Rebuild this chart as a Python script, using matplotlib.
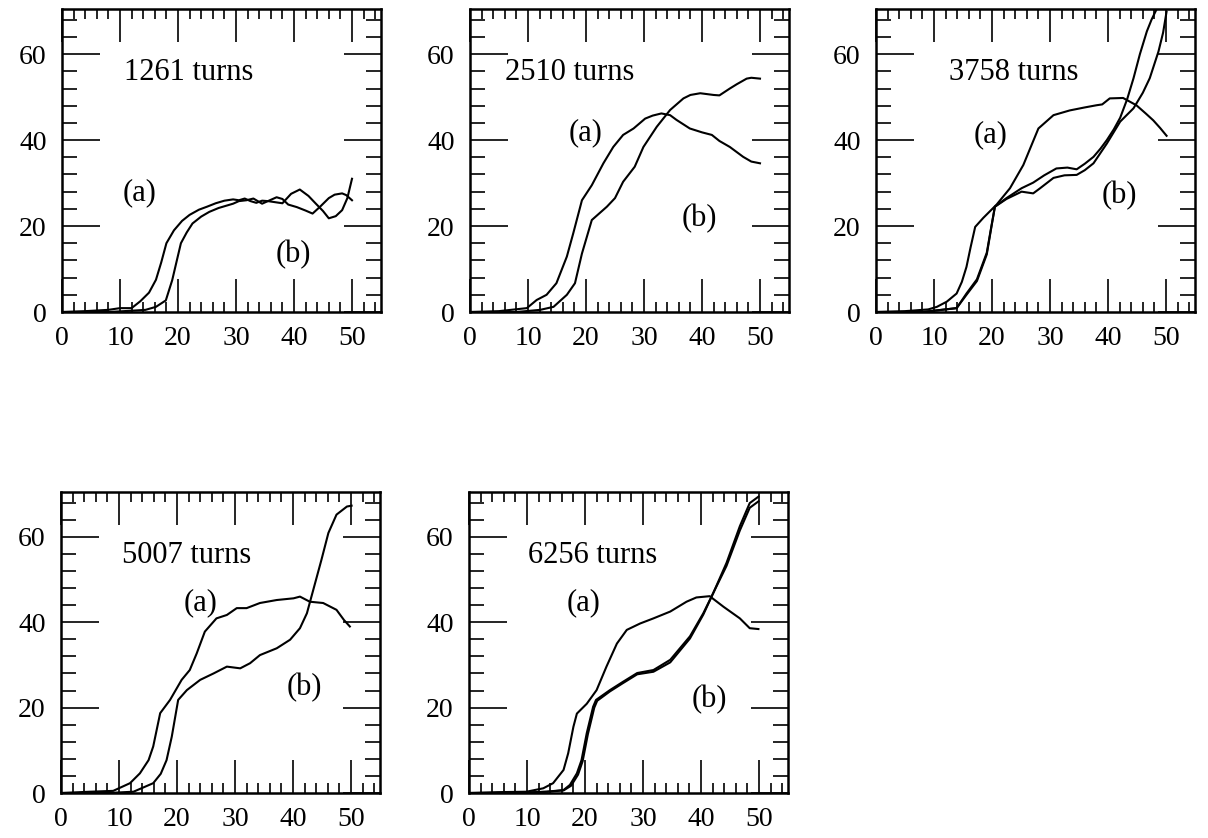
import matplotlib
matplotlib.use("Agg")
import matplotlib.pyplot as plt
from matplotlib.ticker import MultipleLocator

plt.rcParams['font.family'] = ['Liberation Serif', 'DejaVu Serif']

# ---------------- data ----------------
titles = ["1261 turns", "2510 turns", "3758 turns", "5007 turns", "6256 turns"]

p1_a_x = [0, 4, 8, 10, 12, 13.5, 15, 16.2, 17.1, 18, 19.3, 20.7, 22, 23.6, 25, 26.5, 28, 29.5, 30.5, 31.5,
          32.5, 33.5, 34.5, 35.5, 37, 38, 39, 40.5, 42, 43.2, 44.5, 46, 47, 48.3, 49, 50]
p1_a_y = [0, 0.2, 0.5, 0.9, 0.9, 2.5, 4.5, 7.5, 11.5, 16, 19, 21.2, 22.6, 23.8, 24.5, 25.3, 25.9, 26.2, 26.0, 26.4,
          25.8, 25.4, 25.9, 25.8, 26.7, 26.3, 25.0, 24.4, 23.6, 22.9, 24.5, 26.5, 27.3, 27.6, 27.2, 26.0]
p1_b_x = [0, 8, 12, 14.4, 16.2, 17.9, 19, 19.8, 20.5, 21.5, 22.5, 24, 25.4, 27, 29.5, 30.5, 31.8, 33, 34.5, 35.5,
          36.5, 38, 39.5, 41, 42.5, 43.7, 45, 46, 47.2, 48.3, 49.2, 50]
p1_b_y = [0, 0, 0.3, 0.5, 1.2, 2.7, 7.4, 12, 16, 18.5, 20.6, 22.2, 23.3, 24.2, 25.2, 25.8, 26.0, 26.4, 25.2, 25.8,
          25.6, 25.3, 27.5, 28.5, 27.0, 25.3, 23.5, 21.8, 22.3, 23.7, 26.5, 31.0]

p2_a_x = [0, 5, 9.8, 11.5, 13.2, 14.9, 16.7, 17.8, 19.3, 21, 23, 24.7, 26.4, 28.2, 30.2, 31.5, 33, 34.5, 35.6,
          37.9, 40, 41.7, 43, 44.8, 47.1, 48.5, 50]
p2_a_y = [0, 0.2, 0.9, 2.8, 4, 6.7, 12.9, 18.3, 26, 29.5, 34.6, 38.4, 41.2, 42.7, 45, 45.7, 46.2, 45.8, 44.7,
          42.7, 41.8, 41.2, 39.8, 38.4, 36.1, 35.0, 34.6]
p2_b_x = [0, 8, 12.1, 14.4, 16.7, 18.1, 19.3, 21, 23.6, 25, 26.4, 28.4, 29.9, 32.2, 34.5, 36.8, 38, 39.7, 42, 43,
          44.8, 46, 47.7, 48.5, 50]
p2_b_y = [0, 0, 0.5, 1.2, 4, 6.7, 13.6, 21.4, 24.5, 26.5, 30.3, 33.8, 38.4, 43.1, 47, 49.7, 50.5, 50.9, 50.5, 50.4,
          52, 53, 54.3, 54.5, 54.3]

p3_a_x = [0, 5, 9, 10.5, 12.2, 13.9, 14.8, 15.6, 16.3, 17.1, 18.5, 20.8, 23.1, 25.4, 28, 30.6, 33.4, 36, 38, 39,
          40.3, 42.6, 44.9, 46.5, 47.8, 49, 50.1]
p3_a_y = [0, 0.2, 0.6, 1.2, 2.4, 4.3, 7, 10.5, 15, 19.8, 21.9, 25, 28.8, 34.2, 42.7, 45.8, 46.9, 47.6, 48.1, 48.3,
          49.7, 49.8, 48.1, 46.2, 44.6, 42.8, 41]
p3_b_x = [0, 8, 10, 13.9, 15.6, 17.4, 19.1, 19.9, 20.5, 22.5, 25.1, 27.1, 29, 31.1, 33, 34.6, 36, 37.5, 38.7, 39.8,
          41, 42.1, 43.3, 44.4, 45.5, 46.7, 47.5, 48.4]
p3_b_y = [0, 0, 0.3, 0.9, 4.0, 7.2, 13.4, 19.8, 24.5, 26.5, 28.8, 30.1, 31.8, 33.4, 33.6, 33.2, 34.5, 36.1, 38, 40,
          42.5, 45.2, 49.5, 54.4, 60, 65.3, 68, 70.5]
p3_c_x = [0, 8, 10, 13.9, 15.6, 17.4, 19.1, 19.9, 20.5, 22.5, 25.1, 27.1, 28.3, 30.6, 32.5, 34.6, 36, 37.5, 39.8,
          42.1, 44.4, 46, 47.2, 48.7, 49.5, 50.1]
p3_c_y = [0, 0, 0.3, 0.9, 4.3, 7.6, 13.8, 20, 24.5, 26.3, 28.0, 27.6, 28.8, 31.2, 31.8, 31.9, 33, 34.6, 39.2,
          44.3, 47.4, 51, 54.4, 60.6, 65, 69.9]

p4_a_x = [0, 5, 9, 11.9, 13.6, 15.1, 15.9, 17.1, 18.8, 20.8, 22.2, 23.4, 24.8, 26.8, 28.6, 30.3, 32, 34.3, 37.2,
          40.1, 41.2, 42.9, 45.2, 47.5, 48.8, 49.8]
p4_a_y = [0, 0.3, 0.5, 2.3, 4.6, 7.7, 10.9, 18.7, 21.8, 26.5, 28.8, 32.7, 37.8, 40.9, 41.7, 43.3, 43.3, 44.5, 45.2,
          45.6, 46, 44.8, 44.5, 42.9, 40.5, 39]
p4_b_x = [0, 8, 12.5, 15.9, 17.2, 18.2, 19.1, 20.2, 21.7, 24, 26.3, 28.6, 30.9, 32.6, 34.3, 37.2, 39.5, 41.2, 42.4,
          43.5, 44.9, 46.1, 47.5, 49.3, 50.1]
p4_b_y = [0, 0, 0.3, 2.3, 4.5, 7.7, 13.2, 21.8, 24.1, 26.5, 28, 29.6, 29.2, 30.4, 32.3, 33.9, 35.9, 38.6, 42.1,
          47.6, 54.6, 60.9, 65.2, 67.1, 67.3]

p5_a_x = [0, 5, 9.9, 12.8, 14.5, 16.3, 17.1, 18, 18.6, 20.3, 22, 23.7, 25.5, 27.2, 29.5, 31.8, 34.7, 37.5, 39.2,
          41.5, 43.9, 46.7, 48.4, 49.9]
p5_a_y = [0, 0.2, 0.3, 1.1, 2.3, 5.4, 9.3, 15.5, 18.6, 20.9, 24.1, 29.6, 35, 38.2, 39.7, 40.9, 42.5, 44.8, 45.8,
          46.1, 43.6, 40.9, 38.6, 38.4]
p5_b_x = [0, 8, 13.4, 16.3, 17.4, 18.6, 19.4, 20.3, 21.4, 21.9, 24.3, 26.5, 29, 31.8, 34.7, 38.1, 40.4, 42.1,
          44.4, 46.7, 48.4, 49.9]
p5_b_y = [0, 0, 0.3, 0.7, 1.9, 4.6, 7.7, 14, 20.2, 21.8, 24.1, 26, 28.1, 28.8, 31.2, 36.7, 42.1, 46.8,
          53.9, 62.5, 67.9, 69.4]
p5_c_x = [0, 8, 13.4, 16.3, 17.6, 18.8, 19.6, 20.5, 21.6, 22.1, 24.3, 26.5, 29, 31.8, 34.7, 38.1, 40.4, 42.1,
          44.4, 46.7, 48.4, 49.9]
p5_c_y = [0, 0, 0.3, 0.6, 1.7, 4.3, 7.5, 13.8, 20, 21.6, 23.8, 25.7, 27.8, 28.4, 30.6, 36.2, 41.8, 46.8,
          53.2, 61.5, 66.8, 68.3]

series = [
    [(p1_a_x, p1_a_y), (p1_b_x, p1_b_y)],
    [(p2_a_x, p2_a_y), (p2_b_x, p2_b_y)],
    [(p3_a_x, p3_a_y), (p3_b_x, p3_b_y), (p3_c_x, p3_c_y)],
    [(p4_a_x, p4_a_y), (p4_b_x, p4_b_y)],
    [(p5_a_x, p5_a_y), (p5_b_x, p5_b_y), (p5_c_x, p5_c_y)],
]

title_pos = [(10.7, 55.8), (6.0, 55.8), (12.6, 55.8), (10.5, 55.7), (10.2, 55.7)]
a_pos = [(13.3, 27.7), (19.9, 41.6), (19.8, 41.2), (24.1, 44.5), (19.8, 44.5)]
b_pos = [(39.9, 13.3), (39.5, 21.8), (41.9, 27.2), (42.0, 24.6), (41.4, 21.8)]

x_major = [0, 10, 20, 30, 40, 50]
y_major = [0, 20, 40, 60]

# ---------------- layout ----------------
W, H = 1208, 838
fig = plt.figure(figsize=(W / 100, H / 100), dpi=100)

# axes boxes in pixels: (left, top, right, bottom)
boxes = [(62, 9, 381, 312), (470, 9, 789, 312), (876, 9, 1195, 312),
         (61, 492, 380, 793), (469, 492, 788, 793)]

for i, (l, t, r, b) in enumerate(boxes):
    ax = fig.add_axes([l / W, 1 - b / H, (r - l) / W, (b - t) / H])
    for xs, ys in series[i]:
        ax.plot(xs, ys, color='black', lw=1.5, solid_joinstyle='round')
    ax.set_xlim(0, 55)
    ax.set_ylim(0, 70.5)
    ax.set_xticks(x_major)
    ax.set_yticks(y_major)
    ax.xaxis.set_minor_locator(MultipleLocator(2))
    ax.yaxis.set_minor_locator(MultipleLocator(4))
    ax.tick_params(axis='both', which='both', direction='in', top=True, right=True,
                   labelsize=20, width=1.2, color='black')
    ax.tick_params(axis='x', which='major', length=24, pad=10)
    ax.tick_params(axis='x', which='minor', length=7.5)
    ax.tick_params(axis='y', which='major', length=27, pad=11)
    ax.tick_params(axis='y', which='minor', length=11)
    for s in ax.spines.values():
        s.set_linewidth(1.8)
    ax.text(title_pos[i][0], title_pos[i][1], titles[i], fontsize=22, ha='left', va='center')
    ax.text(a_pos[i][0], a_pos[i][1], "(a)", fontsize=22, ha='center', va='center')
    ax.text(b_pos[i][0], b_pos[i][1], "(b)", fontsize=22, ha='center', va='center')

fig.savefig("out.png", dpi=100)
